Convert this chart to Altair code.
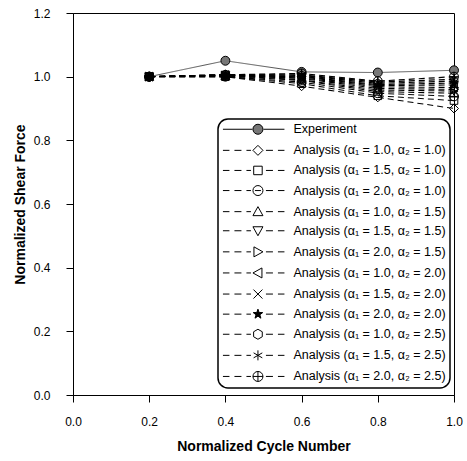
import altair as alt
import pandas as pd

# ---------------- data ----------------
x_vals = [0.2, 0.4, 0.6, 0.8, 1.0]

series = [
    "Experiment",
    "Analysis (α₁ = 1.0, α₂ = 1.0)",
    "Analysis (α₁ = 1.5, α₂ = 1.0)",
    "Analysis (α₁ = 2.0, α₂ = 1.0)",
    "Analysis (α₁ = 1.0, α₂ = 1.5)",
    "Analysis (α₁ = 1.5, α₂ = 1.5)",
    "Analysis (α₁ = 2.0, α₂ = 1.5)",
    "Analysis (α₁ = 1.0, α₂ = 2.0)",
    "Analysis (α₁ = 1.5, α₂ = 2.0)",
    "Analysis (α₁ = 2.0, α₂ = 2.0)",
    "Analysis (α₁ = 1.0, α₂ = 2.5)",
    "Analysis (α₁ = 1.5, α₂ = 2.5)",
    "Analysis (α₁ = 2.0, α₂ = 2.5)",
]

experiment = [1.00, 1.05, 1.015, 1.013, 1.02]
a_10_10 = [1.00, 1.000, 0.970, 0.935, 0.900]
a_15_10 = [1.00, 1.000, 0.978, 0.940, 0.925]
a_20_10 = [1.00, 1.000, 0.983, 0.948, 0.938]
a_10_15 = [1.00, 1.002, 0.988, 0.953, 0.948]
a_15_15 = [1.00, 1.004, 0.990, 0.958, 0.955]
a_20_15 = [1.00, 1.004, 0.994, 0.963, 0.960]
a_10_20 = [1.00, 1.005, 0.996, 0.968, 0.966]
a_15_20 = [1.00, 1.005, 0.999, 0.972, 0.974]
a_20_20 = [1.00, 1.005, 1.001, 0.975, 0.980]
a_10_25 = [1.00, 1.006, 1.004, 0.979, 0.986]
a_15_25 = [1.00, 1.006, 1.006, 0.983, 0.992]
a_20_25 = [1.00, 1.006, 1.010, 0.986, 1.000]

values = [experiment, a_10_10, a_15_10, a_20_10, a_10_15, a_15_15, a_20_15,
          a_10_20, a_15_20, a_20_20, a_10_25, a_15_25, a_20_25]

rows = []
for name, ys in zip(series, values):
    for xv, yv in zip(x_vals, ys):
        rows.append({"series": name, "x": xv, "y": yv})
df = pd.DataFrame(rows)

# ---------------- styles ----------------
CIRCLE = "M1,0A1,1 0 1,1 -1,0A1,1 0 1,1 1,0Z"
markers = [
    CIRCLE,                                            # experiment
    "M0,-1L1,0L0,1L-1,0Z",                             # diamond
    "M-0.85,-0.85L0.85,-0.85L0.85,0.85L-0.85,0.85Z",   # square
    CIRCLE + "M-0.6,0L0.6,0",                          # circle minus
    "M0,-1L1,0.8L-1,0.8Z",                             # triangle up
    "M-1,-0.8L1,-0.8L0,1Z",                            # triangle down
    "M-0.8,-1L1,0L-0.8,1Z",                            # triangle right
    "M0.8,-1L-1,0L0.8,1Z",                             # triangle left
    "M-0.9,-0.9L0.9,0.9M-0.9,0.9L0.9,-0.9",            # x
    "M0,-1L0.235,-0.324L0.951,-0.309L0.38,0.124L0.588,0.809L0,0.4"
    "L-0.588,0.809L-0.38,0.124L-0.951,-0.309L-0.235,-0.324Z",  # star
    "M0,-1L0.866,-0.5L0.866,0.5L0,1L-0.866,0.5L-0.866,-0.5Z",  # hexagon
    "M0,-1L0,1M-0.87,-0.5L0.87,0.5M-0.87,0.5L0.87,-0.5",       # asterisk
    CIRCLE + "M-1,0L1,0M0,-1L0,1",                     # crosshair
]
fills = ["#777777"] + ["transparent"] * 8 + ["black"] + ["transparent"] * 3
strokes = ["black"] * 13

DASHES = ("M-7,0L-5.7,0M-4.7,0L-3.3,0M-2.3,0L-1.4,0"
          "M1.6,0L3,0M4,0L5.3,0")
SOLID = "M-7,0L-1.1,0M1.1,0L5.3,0"
legend_shapes = [SOLID + markers[0]] + [DASHES + m for m in markers[1:]]

dashes = [[1, 0]] + [[6, 4]] * 12
line_colors = ["#555555"] + ["black"] * 12
line_widths = [1.0] + [1.2] * 12

FONT = "Liberation Sans"
major = "round(datum.value*10) % 2 == 0"

x_enc = alt.X(
    "x:Q",
    scale=alt.Scale(domain=[0, 1.0], nice=False, zero=False),
    axis=alt.Axis(
        title="Normalized Cycle Number",
        values=[i / 10 for i in range(0, 11)],
        labelExpr=f"{major} ? format(datum.value, '.1f') : ''",
        tickSize={"condition": {"test": major, "value": 7}, "value": 4},
        labelPadding=14, titlePadding=12, grid=False,
        labelFlush=False, labelOverlap=False,
    ),
)
y_enc = alt.Y(
    "y:Q",
    scale=alt.Scale(domain=[0, 1.2], nice=False, zero=False),
    axis=alt.Axis(
        title="Normalized Shear Force",
        values=[i / 10 for i in range(0, 13)],
        labelExpr=f"{major} ? format(datum.value, '.1f') : ''",
        tickSize={"condition": {"test": major, "value": 7}, "value": 4},
        labelPadding=16, titlePadding=6, grid=False,
        labelFlush=False, labelOverlap=False,
    ),
)

lines = alt.Chart(df).mark_line().encode(
    x=x_enc, y=y_enc,
    detail="series:N",
    strokeDash=alt.StrokeDash("series:N", scale=alt.Scale(domain=series, range=dashes), legend=None),
    color=alt.Color("series:N", scale=alt.Scale(domain=series, range=line_colors), legend=None),
    strokeWidth=alt.StrokeWidth("series:N", scale=alt.Scale(domain=series, range=line_widths), legend=None),
)

points = alt.Chart(df).mark_point(stroke="black", strokeWidth=1, size=80, opacity=1).encode(
    x="x:Q", y="y:Q",
    shape=alt.Shape("series:N", scale=alt.Scale(domain=series, range=markers), legend=None),
    fill=alt.Fill("series:N", scale=alt.Scale(domain=series, range=fills), legend=None),
)

leg = alt.Legend(
    title=None, orient="none", legendX=145, legendY=106,
    fillColor="white", strokeColor="black", cornerRadius=10,
    padding=4, labelFont=FONT, labelFontSize=12.5, labelColor="black",
    labelLimit=0, symbolSize=100, symbolStrokeWidth=1,
    symbolStrokeColor="black", symbolOpacity=1,
    symbolOffset=29.7, labelOffset=29.3, rowPadding=6.1,
)

legend_layer = alt.Chart(df).mark_point(strokeWidth=1, opacity=0).encode(
    x="x:Q", y="y:Q",
    shape=alt.Shape("series:N", scale=alt.Scale(domain=series, range=legend_shapes), legend=leg),
    fill=alt.Fill("series:N", scale=alt.Scale(domain=series, range=fills), legend=leg),
    stroke=alt.Stroke("series:N", scale=alt.Scale(domain=series, range=strokes), legend=leg),
)

chart = (
    alt.layer(lines, points, legend_layer)
    .resolve_scale(shape="independent", fill="independent", stroke="independent")
    .properties(
        width=381, height=382,
        autosize=alt.AutoSizeParams(type="none"),
        padding={"left": 73, "top": 13, "right": 13, "bottom": 66},
        background="white",
    )
    .configure_view(stroke="black", strokeWidth=1)
    .configure_legend(strokeWidth=1.5)
    .configure_axis(
        domainColor="black", tickColor="black", labelColor="black", titleColor="black",
        labelFont=FONT, titleFont=FONT, labelFontSize=12, titleFontSize=14,
        titleFontWeight="bold", domainWidth=1, tickWidth=1,
    )
)

chart.save("out.html", embed_options={"renderer": "svg", "actions": False})
